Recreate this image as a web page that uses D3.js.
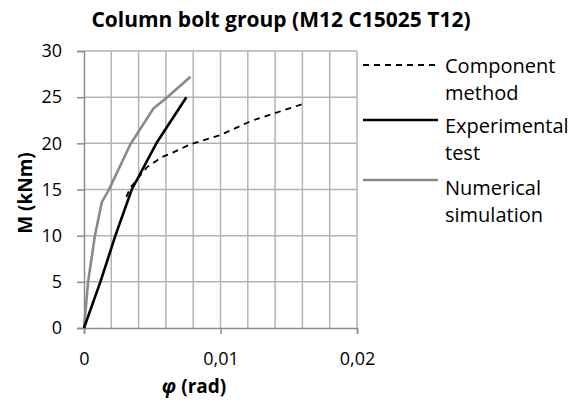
<!DOCTYPE html>
<html>
<head>
<meta charset="utf-8">
<script src="https://cdn.jsdelivr.net/npm/d3@7"></script>
<style>
  body { margin: 0; background: #fff; }
  svg text { font-family: "Open Sans", Lato, sans-serif; fill: #000; }
</style>
</head>
<body>
<div id="chart"></div>
<script>
var width     = 579,
    height    = 405,
    plotLeft  = 84,
    plotRight = 357,
    plotTop   = 51,
    plotBot   = 328;

// data (phi in rad, M in kNm)
var componentPhi = [0.0031, 0.0034, 0.0046, 0.0057, 0.0065, 0.0078, 0.0100, 0.0122, 0.0161];
var componentM   = [14.2, 15.2, 17.4, 18.5, 19.0, 19.9, 20.9, 22.4, 24.3];

var experimentalPhi = [0, 0.0012, 0.0023, 0.0035, 0.0053, 0.0075];
var experimentalM   = [0, 5.0, 10.0, 15.0, 20.0, 25.0];

var numericalPhi = [0, 0.0003, 0.0008, 0.0013, 0.0018, 0.0034, 0.0051, 0.0061, 0.0078];
var numericalM   = [0, 5.0, 10.0, 13.6, 14.9, 19.9, 23.8, 25.0, 27.2];

var xTicks = [0, 0.01, 0.02];
var xTickLabels = ["0", "0,01", "0,02"];
var yTicks = [0, 5, 10, 15, 20, 25, 30];

var seriesNames = [["Component", "method"], ["Experimental", "test"], ["Numerical", "simulation"]];

var x = d3.scaleLinear().domain([0, 0.02]).range([plotLeft, plotRight]);
var y = d3.scaleLinear().domain([0, 30]).range([plotBot, plotTop]);

var svg = d3.select("#chart").append("svg")
    .attr("width", width)
    .attr("height", height);

// grid
var grid = svg.append("g").attr("class", "grid");
grid.selectAll("line.v")
    .data(d3.range(1, 11).map(function(i) { return i * 0.002; }))
    .enter().append("line")
    .attr("x1", function(d) { return x(d); })
    .attr("x2", function(d) { return x(d); })
    .attr("y1", plotTop)
    .attr("y2", plotBot)
    .attr("stroke", "#b3b3b3")
    .attr("stroke-width", 1.5);
grid.selectAll("line.h")
    .data(yTicks.slice(1))
    .enter().append("line")
    .attr("x1", plotLeft)
    .attr("x2", plotRight)
    .attr("y1", function(d) { return y(d); })
    .attr("y2", function(d) { return y(d); })
    .attr("stroke", "#b3b3b3")
    .attr("stroke-width", 1.5);

// axes
var xAxis = d3.axisBottom(x)
    .tickValues(xTicks)
    .tickSize(6)
    .tickPadding(18)
    .tickFormat(function(d, i) { return xTickLabels[i]; });
var yAxis = d3.axisLeft(y)
    .tickValues(yTicks)
    .tickSize(7)
    .tickPadding(15);

var gx = svg.append("g")
    .attr("transform", "translate(0," + plotBot + ")")
    .call(xAxis);
var gy = svg.append("g")
    .attr("transform", "translate(" + plotLeft + ",0)")
    .call(yAxis);

[gx, gy].forEach(function(g) {
    g.selectAll("path.domain").attr("stroke", "#8c8c8c").attr("stroke-width", 1.5);
    g.selectAll(".tick line").attr("stroke", "#8c8c8c").attr("stroke-width", 1.5);
    g.selectAll(".tick text")
        .style("font-family", "'Open Sans', Lato, sans-serif")
        .style("font-size", "18px")
        .attr("fill", "#000");
});
gx.selectAll(".tick text").attr("dy", "0");
gx.selectAll(".tick text").attr("y", 365 - plotBot);

// lines (straight segments between the read points)
var line = d3.line()
    .x(function(d) { return x(d[0]); })
    .y(function(d) { return y(d[1]); });

var series = [
    { phi: componentPhi,    m: componentM,    color: "#000",    width: 1.8, dash: "6,5" },
    { phi: experimentalPhi, m: experimentalM, color: "#000",    width: 2.6, dash: null },
    { phi: numericalPhi,    m: numericalM,    color: "#8a8a8a", width: 2.6, dash: null }
];

// draw numerical, experimental then component on top
[2, 1, 0].forEach(function(i) {
    var s = series[i];
    svg.append("path")
        .datum(d3.zip(s.phi, s.m))
        .attr("d", line)
        .attr("fill", "none")
        .attr("stroke", s.color)
        .attr("stroke-width", s.width)
        .attr("stroke-linejoin", "round")
        .attr("stroke-dasharray", s.dash);
});

// legend
var legendY = [65, 120, 180];
var legendBase = [73, 133, 195];
var legend = svg.append("g");
series.forEach(function(s, i) {
    legend.append("line")
        .attr("x1", 363).attr("x2", 438)
        .attr("y1", legendY[i]).attr("y2", legendY[i])
        .attr("stroke", s.color)
        .attr("stroke-width", s.width)
        .attr("stroke-dasharray", s.dash);
    legend.append("text")
        .attr("x", 445)
        .attr("y", legendBase[i])
        .style("font-size", "20px")
        .text(seriesNames[i][0]);
    legend.append("text")
        .attr("x", 445)
        .attr("y", legendBase[i] + 27)
        .style("font-size", "20px")
        .text(seriesNames[i][1]);
});

// title and axis titles
svg.append("text")
    .attr("x", 281)
    .attr("y", 27)
    .attr("text-anchor", "middle")
    .style("font-size", "21px")
    .style("font-weight", "bold")
    .text("Column bolt group (M12 C15025 T12)");

svg.append("text")
    .attr("transform", "translate(32,193) rotate(-90)")
    .attr("text-anchor", "middle")
    .style("font-size", "19px")
    .style("font-weight", "bold")
    .text("M (kNm)");

var xt = svg.append("text")
    .attr("x", 194)
    .attr("y", 393)
    .attr("text-anchor", "middle")
    .style("font-size", "19px")
    .style("font-weight", "bold");
xt.append("tspan").style("font-style", "italic").text("φ");
xt.append("tspan").text(" (rad)");
</script>
</body>
</html>
